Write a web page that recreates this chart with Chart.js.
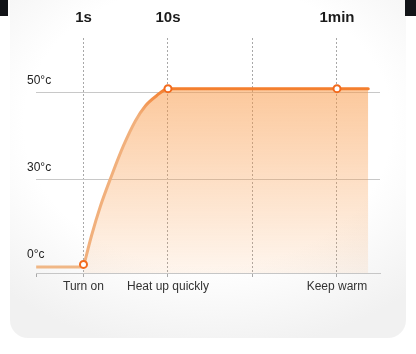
<!DOCTYPE html>
<html><head><meta charset="utf-8">
<script src="https://cdn.jsdelivr.net/npm/chart.js@4"></script>
<style>
html,body{margin:0;padding:0;}
body{width:416px;height:354px;position:relative;overflow:hidden;background:#fff;}
#card{position:absolute;left:10px;top:-30px;width:396px;height:368px;border-radius:18px;
  background:radial-gradient(ellipse 75% 62% at 50% 42%, #ffffff 62%, #f1f1f1 100%);}
.corner{position:absolute;top:0;height:16px;background:#121418;}
canvas{position:absolute;left:0;top:0;}
</style></head><body>
<div id="card"></div>
<div class="corner" style="left:0;width:8px"></div>
<div class="corner" style="right:0;width:11px"></div>
<canvas id="c" width="416" height="354"></canvas>
<script>
// x: 1 = Turn on (1s), 2 = Heat up quickly (10s), 3 = unlabeled, 4 = Keep warm (1min)
// y: levels 0 = 0°c, 1 = 30°c, 2 = 50°c (axis is not to scale in the source)
const xMin = 0.438, xMax = 4.509;
const yMin = -0.069, yMax = 2.632;
const xTicks = [1, 2, 3, 4];
const topLabels = ['1s', '10s', '', '1min'];
const bottomLabels = ['Turn on', 'Heat up quickly', '', 'Keep warm'];
const yTicks = [0, 1, 2];
const yLabels = ['0°c', '30°c', '50°c'];
const baseX = [0.44, 1];
const baseY = [0, 0];
const curveX = [1, 1.094, 1.201, 1.331, 1.472, 1.614, 1.732, 1.862, 2, 4, 4.37];
const curveY = [0, 0.356, 0.701, 1.046, 1.391, 1.678, 1.851, 1.966, 2.05, 2.05, 2.05];
const markerX = [1, 2, 4];
const markerY = [0.03, 2.05, 2.05];

const pts = (xs, ys) => xs.map((x, i) => ({x, y: ys[i]}));
const peak = Math.max(...curveY);

Chart.defaults.font.family = "'Liberation Sans', Arial, sans-serif";

new Chart(document.getElementById('c'), {
  type: 'line',
  data: {
    datasets: [
      {
        label: 'markers', data: pts(markerX, markerY), showLine: false,
        pointRadius: 3.5, pointBorderWidth: 2, pointBorderColor: '#f26a1d',
        pointBackgroundColor: '#ffffff', order: 0
      },
      {
        label: 'heat', data: pts(curveX, curveY), order: 1,
        cubicInterpolationMode: 'monotone', pointRadius: 0, borderWidth: 3,
        borderCapStyle: 'round',
        borderColor: (c) => {
          const {chart} = c; const {ctx, chartArea, scales} = chart;
          if (!chartArea) return '#f47b28';
          const t = scales.y.getPixelForValue(peak);
          const g = ctx.createLinearGradient(0, t - 2, 0, t + 28);
          g.addColorStop(0, '#f47b28'); g.addColorStop(1, '#f1b07c');
          return g;
        },
        fill: 'start',
        backgroundColor: (c) => {
          const {chart} = c; const {ctx, chartArea, scales} = chart;
          if (!chartArea) return 'rgba(249,150,65,0.3)';
          const t = scales.y.getPixelForValue(peak);
          const g = ctx.createLinearGradient(0, t, 0, chartArea.bottom);
          g.addColorStop(0, 'rgba(249,150,65,0.52)');
          g.addColorStop(0.5, 'rgba(249,150,65,0.30)');
          g.addColorStop(1, 'rgba(249,150,65,0.09)');
          return g;
        }
      },
      {
        label: 'base', data: pts(baseX, baseY), order: 2,
        pointRadius: 0, borderWidth: 3, borderColor: '#f0b786', fill: false
      }
    ]
  },
  options: {
    responsive: false, animation: false, devicePixelRatio: 1,
    events: [],
    layout: {padding: {left: 36, right: 36, top: 0, bottom: 51}},
    plugins: {legend: {display: false}, tooltip: {enabled: false}},
    scales: {
      x: {
        type: 'linear', position: 'bottom', min: xMin, max: xMax,
        afterBuildTicks: s => { s.ticks = [xMin, ...xTicks].map(v => ({value: v})); },
        afterFit: s => { s.height = 30; },
        grid: {
          color: c => (c.tick && c.tick.value === xMin) ? 'rgba(0,0,0,0)' : '#a8a8a8',
          lineWidth: 1, tickLength: 4, tickColor: '#a8a8a8',
          tickBorderDash: [], tickWidth: 1
        },
        border: {display: true, color: '#c6c6c6', width: 1, dash: [2, 2]},
        ticks: {
          autoSkip: false, maxRotation: 0, padding: 2, color: '#333', font: {size: 12},
          callback: v => { const i = xTicks.indexOf(v); return i < 0 ? '' : bottomLabels[i]; }
        }
      },
      x2: {
        type: 'linear', position: 'top', min: xMin, max: xMax,
        afterBuildTicks: s => { s.ticks = xTicks.map(v => ({value: v})); },
        afterFit: s => { s.height = 38; },
        grid: {display: false, drawTicks: false}, border: {display: false},
        ticks: {
          autoSkip: false, maxRotation: 0, padding: 11.5, color: '#1b1b1b',
          font: {size: 15, weight: 'bold'},
          callback: v => { const i = xTicks.indexOf(v); return i < 0 ? '' : topLabels[i]; }
        }
      },
      y: {
        type: 'linear', min: yMin, max: yMax,
        afterBuildTicks: s => { s.ticks = yTicks.map(v => ({value: v})); },
        afterFit: s => { s.width = 0; },
        grid: {
          color: c => (c.tick && c.tick.value === 0) ? 'rgba(0,0,0,0)' : '#c8c8c8',
          drawTicks: false, lineWidth: 1
        },
        border: {display: false},
        ticks: {
          mirror: true, crossAlign: 'near', padding: -9, labelOffset: -12,
          color: '#222', font: {size: 12},
          callback: v => { const i = yTicks.indexOf(v); return i < 0 ? '' : yLabels[i]; }
        }
      }
    }
  }
});
</script>
</body></html>
